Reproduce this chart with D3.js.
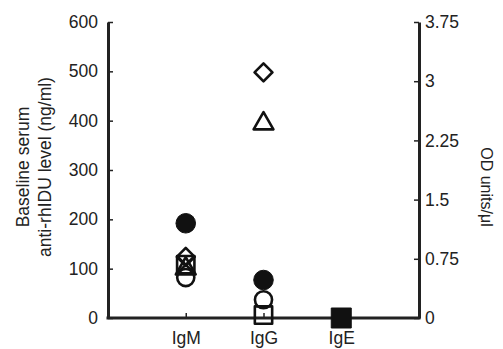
<!DOCTYPE html>
<html>
<head>
<meta charset="utf-8">
<script src="https://cdn.jsdelivr.net/npm/d3@7"></script>
<style>
  body { margin: 0; background: #fff; }
  text { font-family: "Liberation Sans", Arial, sans-serif; fill: #222; }
</style>
</head>
<body>
<div id="chart"></div>
<script>
// categories and ticks
const categories = ["IgM", "IgG", "IgE"];
const leftTicks = [0, 100, 200, 300, 400, 500, 600];
const rightTicks = [0, 0.75, 1.5, 2.25, 3, 3.75];

// values per marker type (ng/ml)
const filledCircles = [{ cat: "IgM", v: 192 }, { cat: "IgG", v: 77 }];
const openCircles = [{ cat: "IgM", v: 82 }, { cat: "IgG", v: 37 }];
const openDiamonds = [{ cat: "IgM", v: 124 }, { cat: "IgG", v: 498 }];
const openTriangles = [{ cat: "IgM", v: 100 }, { cat: "IgG", v: 394 }];
const openSquares = [{ cat: "IgM", v: 108 }, { cat: "IgG", v: 6 }];
const crosses = [{ cat: "IgM", v: 108 }];
const filledSquares = [{ cat: "IgE", v: 0 }];

const width = 503, height = 349;
const margin = { top: 22, right: 84, bottom: 31, left: 108 };
const innerW = width - margin.left - margin.right;
const innerH = height - margin.top - margin.bottom;

const svg = d3.select("#chart").append("svg")
    .attr("width", width)
    .attr("height", height);

const g = svg.append("g")
    .attr("transform", `translate(${margin.left},${margin.top})`);

const x = d3.scalePoint()
    .domain(categories)
    .range([0, innerW])
    .padding(1);

const y = d3.scaleLinear()
    .domain([0, 600])
    .range([innerH, 0]);

const y2 = d3.scaleLinear()
    .domain([0, 3.75])
    .range([innerH, 0]);

const axisColor = "#222";
const tickFont = "17.5px";

// left axis
const leftAxis = g.append("g")
    .call(d3.axisLeft(y).tickValues(leftTicks).tickSize(-5).tickPadding(10).tickSizeOuter(0));
leftAxis.select(".domain").attr("stroke", axisColor).attr("stroke-width", 3);
leftAxis.selectAll(".tick line").attr("stroke", axisColor).attr("stroke-width", 1.5);
leftAxis.selectAll("text").style("font-size", tickFont).attr("fill", "#222");

// right axis
const rightAxis = g.append("g")
    .attr("transform", `translate(${innerW},0)`)
    .call(d3.axisRight(y2).tickValues(rightTicks).tickFormat(d => String(d)).tickSize(-5).tickPadding(6).tickSizeOuter(0));
rightAxis.select(".domain").attr("stroke", axisColor).attr("stroke-width", 3);
rightAxis.selectAll(".tick line").attr("stroke", axisColor).attr("stroke-width", 1.5);
rightAxis.selectAll("text").style("font-size", tickFont).attr("fill", "#222");

// bottom axis
const bottomAxis = g.append("g")
    .attr("transform", `translate(0,${innerH})`)
    .call(d3.axisBottom(x).tickSize(-5).tickPadding(14).tickSizeOuter(0));
bottomAxis.select(".domain").attr("stroke", axisColor).attr("stroke-width", 3)
    .attr("d", `M-1.5,0H${innerW + 1.5}`);
bottomAxis.selectAll(".tick line").attr("stroke", axisColor).attr("stroke-width", 1.5);
bottomAxis.selectAll("text").style("font-size", tickFont).attr("fill", "#222");

// custom X symbol
const symbolCross = {
    draw(ctx, size) {
        const r = Math.sqrt(size) / 2;
        ctx.moveTo(-r, -r); ctx.lineTo(r, r);
        ctx.moveTo(r, -r); ctx.lineTo(-r, r);
    }
};

function drawMarks(data, type, size, filled, rotate) {
    g.selectAll(null)
        .data(data)
        .enter()
        .append("path")
        .attr("d", d3.symbol().type(type).size(size))
        .attr("transform", d => `translate(${x(d.cat)},${y(d.v)})` + (rotate ? ` rotate(${rotate})` : ""))
        .attr("fill", filled ? "#111" : "none")
        .attr("stroke", "#111")
        .attr("stroke-width", filled ? 1 : 2.6)
        .attr("stroke-linejoin", "round");
}

drawMarks(openSquares, d3.symbolSquare, 300, false);
drawMarks(crosses, symbolCross, 300, false);
drawMarks(openTriangles, d3.symbolTriangle, 170, false);
drawMarks(openDiamonds, d3.symbolSquare, 160, false, 45);
drawMarks(openCircles, d3.symbolCircle, 230, false);
drawMarks(filledCircles, d3.symbolCircle, 300, true);
drawMarks(filledSquares, d3.symbolSquare, 400, true);

// left axis title (two lines)
const leftTitle = svg.append("text")
    .attr("transform", `translate(0,${margin.top + innerH / 2 - 3}) rotate(-90)`)
    .attr("text-anchor", "middle")
    .style("font-size", "17.5px");
leftTitle.append("tspan").attr("x", 0).attr("y", 29).text("Baseline serum");
leftTitle.append("tspan").attr("x", 0).attr("y", 51).text("anti-rhIDU level (ng/ml)");

// right axis title
svg.append("text")
    .attr("transform", `translate(481,${margin.top + 165}) rotate(90)`)
    .attr("text-anchor", "middle")
    .style("font-size", "16px")
    .text("OD units/μl");
</script>
</body>
</html>
